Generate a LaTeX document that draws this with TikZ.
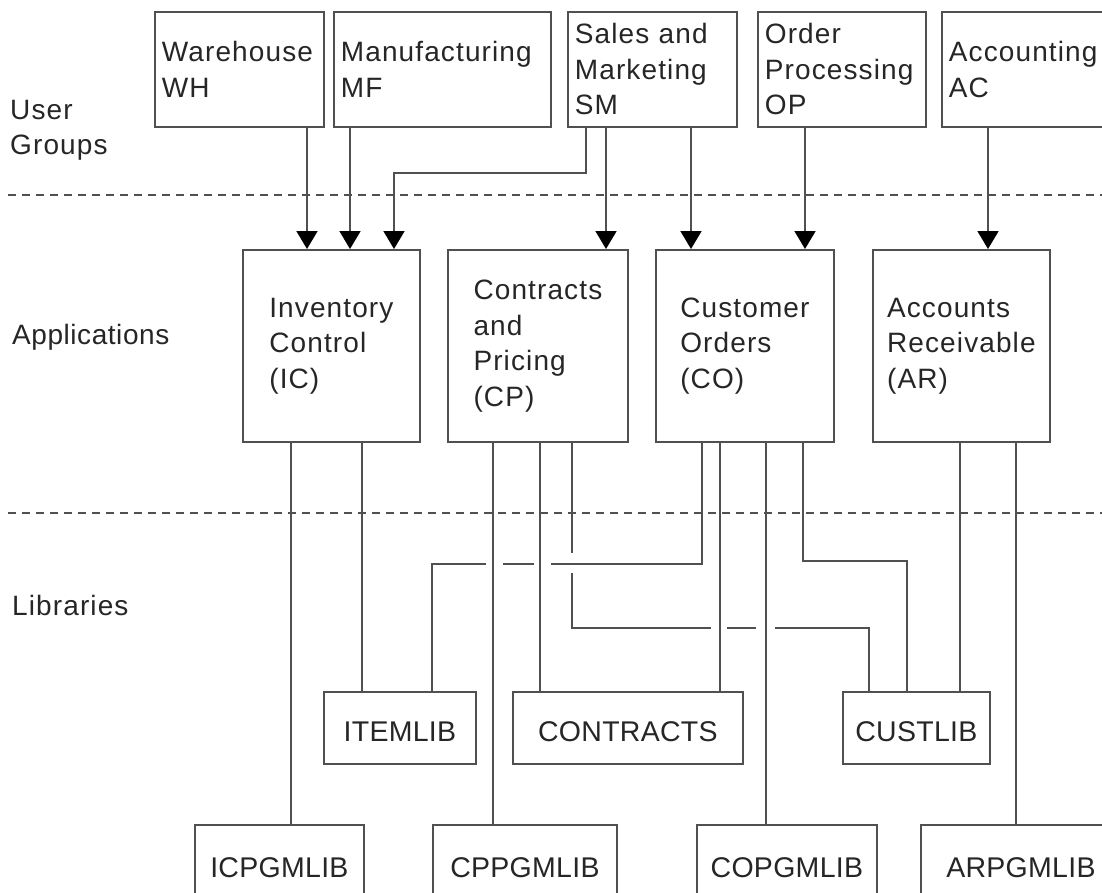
\documentclass[tikz,border=0pt]{standalone}
\usepackage{fontspec}
\setmainfont{Liberation Sans}[LetterSpace=4]
\usetikzlibrary{arrows.meta}
\definecolor{linegray}{HTML}{505050}
\definecolor{textgray}{HTML}{262626}

\tikzset{
  grpbox/.style={draw=linegray,line width=1.8pt,text=textgray,anchor=north west,
    minimum height=115pt,align=left,inner xsep=7pt,inner ysep=0pt},
  appbox/.style={draw=linegray,line width=1.8pt,text=textgray,anchor=north west,
    minimum height=192pt,align=left},
  libbox/.style={draw=linegray,line width=1.8pt,text=textgray,anchor=north west,
    minimum height=72pt,text height=28pt,text depth=0pt,
    font={\fontsize{28.5}{35}\selectfont\addfontfeatures{LetterSpace=1}}},
  lbl/.style={text=textgray,anchor=north west,align=left,inner sep=0pt},
  sep/.style={draw=linegray,line width=1.8pt,dash pattern=on 8pt off 6pt},
  link/.style={draw=linegray,line width=1.8pt},
  arr/.style={link,-{Triangle[length=18pt,width=21pt,color=black]}}
}

\begin{document}
\begin{tikzpicture}[x=1pt,y=-1pt,font=\fontsize{28}{35.5}\selectfont]
\useasboundingbox (0,0) rectangle (1102,892);
\clip (0,0) rectangle (1102,892);

\path[sep] (8,195) -- (1102,195);
\path[sep] (8,513) -- (1102,513);

\node[lbl] (ug) at (10,100) {User\\Groups};
\node[lbl] (ap) at (12,324) {\addfontfeatures{LetterSpace=2}Applications};
\node[lbl] (li) at (12,595) {Libraries};

\node[grpbox,text width=155pt] (WH) at (154,11) {Warehouse\\WH};
\node[grpbox,text width=203pt] (MF) at (333,11) {Manufacturing\\MF};
\node[grpbox,text width=155pt] (SM) at (567,11) {Sales and\\Marketing\\SM};
\node[grpbox,text width=154pt] (OP) at (757,11) {Order\\Processing\\OP};
\node[grpbox,text width=160pt] (AC) at (941,11) {Accounting\\AC};

\node[appbox,minimum width=177pt] (IC) at (242,249) {Inventory\\Control\\(IC)};
\node[appbox,minimum width=180pt] (CP) at (447,249) {Contracts\\and\\Pricing\\(CP)};
\node[appbox,minimum width=178pt] (CO) at (655,249) {Customer\\Orders\\(CO)};
\node[appbox,minimum width=177pt] (AR) at (872,249) {Accounts\\Receivable\\(AR)};

\node[libbox,minimum width=152pt] (ITEMLIB) at (323,691) {ITEMLIB};
\node[libbox,minimum width=230pt] (CONTRACTS) at (512,691) {CONTRACTS};
\node[libbox,minimum width=147pt] (CUSTLIB) at (842,691) {CUSTLIB};
\node[libbox,minimum width=169pt,minimum height=78pt] (ICPGMLIB) at (194,824) {ICPGMLIB};
\node[libbox,minimum width=184pt,minimum height=78pt] (CPPGMLIB) at (432,824) {CPPGMLIB};
\node[libbox,minimum width=180pt,minimum height=78pt] (COPGMLIB) at (696,824) {COPGMLIB};
\node[libbox,minimum width=200pt,minimum height=78pt] (ARPGMLIB) at (920,824) {ARPGMLIB};

\draw[arr] (WH.south -| 307,0) -- (IC.north -| 307,0);
\draw[arr] (MF.south -| 350,0) -- (IC.north -| 350,0);
\draw[arr] (SM.south -| 586,0) |- (394,173) -- (IC.north -| 394,0);
\draw[arr] (SM.south -| 606,0) -- (CP.north -| 606,0);
\draw[arr] (SM.south -| 691,0) -- (CO.north -| 691,0);
\draw[arr] (OP.south -| 805,0) -- (CO.north -| 805,0);
\draw[arr] (AC.south -| 988,0) -- (AR.north -| 988,0);

\draw[link] (IC.south -| 291,0) -- (ICPGMLIB.north -| 291,0);
\draw[link] (IC.south -| 362,0) -- (ITEMLIB.north -| 362,0);
\draw[link] (CP.south -| 493,0) -- (CPPGMLIB.north -| 493,0);
\draw[link] (CP.south -| 540,0) -- (CONTRACTS.north -| 540,0);
\draw[link] (CP.south -| 572,0) -- (572,553) (572,573) |- (711,628) (727,628) -- (756,628) (775,628) -| (CUSTLIB.north -| 869,0);
\draw[link] (CO.south -| 702,0) |- (551,564) (534,564) -- (503,564) (486,564) -| (ITEMLIB.north -| 432,0);
\draw[link] (CO.south -| 720,0) -- (CONTRACTS.north -| 720,0);
\draw[link] (CO.south -| 766,0) -- (COPGMLIB.north -| 766,0);
\draw[link] (CO.south -| 803,0) |- (907,561) -- (CUSTLIB.north -| 907,0);
\draw[link] (AR.south -| 960,0) -- (CUSTLIB.north -| 960,0);
\draw[link] (AR.south -| 1016,0) -- (ARPGMLIB.north -| 1016,0);
\end{tikzpicture}
\end{document}
